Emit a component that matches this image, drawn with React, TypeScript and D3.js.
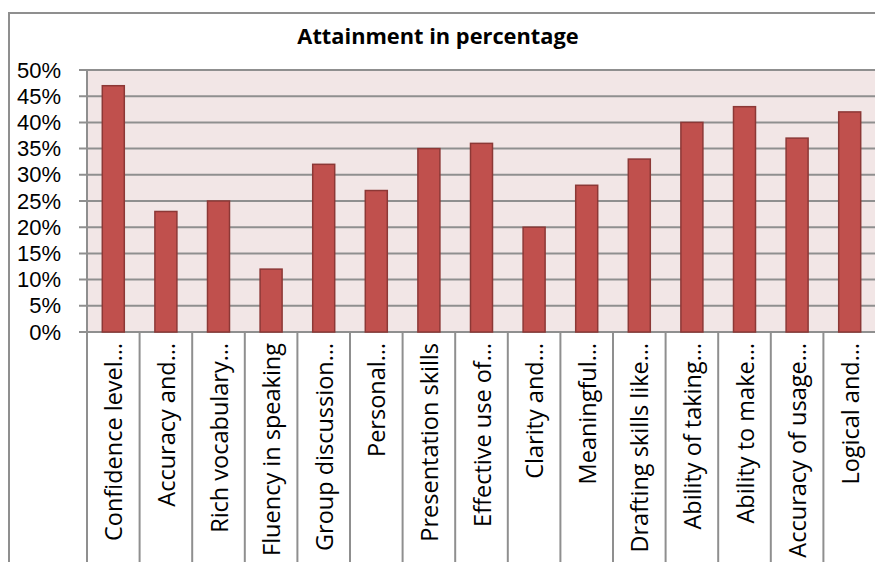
import React from "react";
import * as d3 from "d3";

const categories = [
  "Confidence level…",
  "Accuracy and…",
  "Rich vocabulary…",
  "Fluency in speaking",
  "Group discussion…",
  "Personal…",
  "Presentation skills",
  "Effective use of…",
  "Clarity and…",
  "Meaningful…",
  "Drafting skills like…",
  "Ability of taking…",
  "Ability to make…",
  "Accuracy of usage…",
  "Logical and…",
];
const values = [0.47, 0.23, 0.25, 0.12, 0.32, 0.27, 0.35, 0.36, 0.2, 0.28, 0.33, 0.4, 0.43, 0.37, 0.42];
const yTicks = [0, 0.05, 0.1, 0.15, 0.2, 0.25, 0.3, 0.35, 0.4, 0.45, 0.5];
const title = "Attainment in percentage";

const W = 875;
const H = 562;
const FONT = "'Open Sans', 'DejaVu Sans', sans-serif";
const TICK_FONT = "'Liberation Sans', Arial, sans-serif";

export default function App() {
  const left = 87;
  const step = 52.6;
  const top = 70;
  const bottom = 332;
  const x = d3.scaleBand<string>().domain(categories).range([left, left + step * categories.length]).padding(0);
  const y = d3.scaleLinear().domain([0, 0.5]).range([bottom, top]);
  const barW = 22;
  const right = left + step * categories.length;
  const fmt = d3.format(".0%");
  const grid = "#8f8f8f";

  return (
    <svg width={W} height={H} style={{ position: "absolute", left: 0, top: 0 }} fontFamily={FONT}>
      <rect x={0} y={0} width={W} height={H} fill="#fff" />
      {/* outer chart border */}
      <rect x={9} y={13} width={W + 20} height={H + 20} fill="none" stroke={grid} strokeWidth={2} />
      {/* title */}
      <text x={438} y={35} textAnchor="middle" dominantBaseline="central" fontWeight="bold" fontSize={21.8} fill="#000">
        {title}
      </text>
      {/* plot background */}
      <rect x={left} y={top} width={right - left} height={bottom - top} fill="#F2E6E6" />
      {/* gridlines */}
      {yTicks.map((t) => (
        <line key={"g" + t} x1={left - 8} x2={right} y1={y(t)} y2={y(t)} stroke={grid} strokeWidth={2} />
      ))}
      {/* y axis */}
      <line x1={left} x2={left} y1={top} y2={H} stroke={grid} strokeWidth={2} />
      {/* category separators */}
      {categories.map((c) => (
        <line key={"s" + c} x1={(x(c) as number) + step} x2={(x(c) as number) + step} y1={bottom} y2={H} stroke={grid} strokeWidth={2} />
      ))}
      {/* y tick labels */}
      {yTicks.map((t) => (
        <text key={"t" + t} x={61} y={y(t)} textAnchor="end" dominantBaseline="central" fontSize={22} fontFamily={TICK_FONT} fill="#000">
          {fmt(t)}
        </text>
      ))}
      {/* bars */}
      {categories.map((c, i) => {
        const cx = (x(c) as number) + step / 2;
        return (
          <rect
            key={"b" + c}
            x={cx - barW / 2}
            y={y(values[i])}
            width={barW}
            height={bottom - y(values[i])}
            fill="#C0504D"
            stroke="#8C3836"
            strokeWidth={1.5}
          />
        );
      })}
      {/* category labels */}
      {categories.map((c) => {
        const cx = (x(c) as number) + step / 2;
        return (
          <text
            key={"l" + c}
            transform={`translate(${cx},343) rotate(-90)`}
            textAnchor="end"
            dominantBaseline="central"
            fontSize={23.5}
            fill="#000"
          >
            {c}
          </text>
        );
      })}
    </svg>
  );
}
